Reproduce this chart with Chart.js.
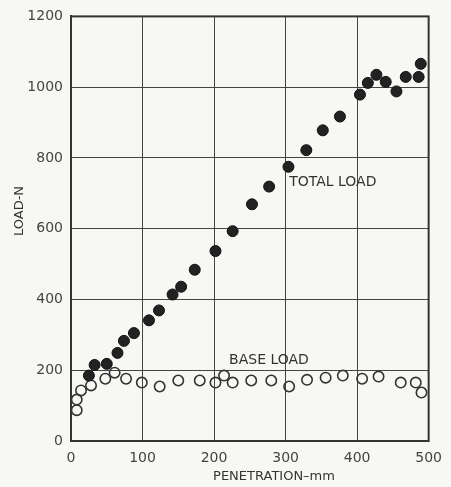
<!DOCTYPE html>
<html>
  <head>
    <title>Load vs penetration</title>
    <script src="https://cdn.jsdelivr.net/npm/chart.js"></script>
    <style>
      html, body { margin: 0; padding: 0; background: #f7f7f4; }
      #wrap { width: 451px; height: 487px; }
    </style>
  </head>
  <body>
    <div id="wrap"><canvas id="grafico"></canvas></div>
    <script>
      // total load (filled dots), penetration mm -> load N
      var totalX = [25, 33, 50, 65, 74, 88, 109, 123, 142, 154, 173, 202, 226, 253, 277, 304, 329, 352, 376, 404, 415, 427, 440, 455, 468, 486, 489];
      var totalY = [185, 215, 218, 249, 283, 305, 341, 369, 414, 436, 484, 537, 593, 669, 719, 775, 822, 878, 917, 979, 1012, 1035, 1015, 988, 1029, 1029, 1066];

      // base load (open circles)
      var baseX = [8, 8, 14, 28, 48, 61, 77, 99, 124, 150, 180, 202, 214, 226, 252, 280, 305, 330, 356, 380, 407, 430, 461, 482, 490];
      var baseY = [87, 117, 143, 157, 176, 193, 176, 165, 154, 171, 171, 165, 185, 165, 171, 171, 154, 173, 179, 185, 176, 182, 165, 165, 137];

      var xTicks = [0, 100, 200, 300, 400, 500];
      var yTicks = [0, 200, 400, 600, 800, 1000, 1200];

      function pares(xs, ys) {
        return xs.map((x, i) => ({ x: x, y: ys[i] }));
      }

      var textos = {
        id: "textos",
        afterDraw(chart) {
          var ctx = chart.ctx;
          var sx = chart.scales.x;
          var sy = chart.scales.y;
          var a = chart.chartArea;
          ctx.save();
          // frame round the plot
          ctx.strokeStyle = "#333";
          ctx.lineWidth = 2;
          ctx.strokeRect(a.left, a.top, a.right - a.left, a.bottom - a.top);
          ctx.fillStyle = "#333";
          ctx.font = "14px 'DejaVu Sans'";
          ctx.textBaseline = "middle";
          ctx.textAlign = "left";
          ctx.fillText("TOTAL LOAD", sx.getPixelForValue(305), sy.getPixelForValue(730));
          ctx.fillText("BASE LOAD", sx.getPixelForValue(221), sy.getPixelForValue(227));
          // axis titles
          ctx.font = "13px 'DejaVu Sans'";
          ctx.textAlign = "center";
          ctx.fillText("PENETRATION\u2013mm", 274, 477);
          ctx.translate(20, 211);
          ctx.rotate(-Math.PI / 2);
          ctx.fillText("LOAD-N", 0, 0);
          ctx.restore();
        },
      };

      var grafico = new Chart(document.getElementById("grafico").getContext("2d"), {
        type: "scatter",
        data: {
          datasets: [
            {
              label: "Total load",
              data: pares(totalX, totalY),
              pointRadius: 5.5,
              pointBackgroundColor: "#222",
              pointBorderColor: "#111",
              pointBorderWidth: 1,
            },
            {
              label: "Base load",
              data: pares(baseX, baseY),
              pointRadius: 5.2,
              pointBackgroundColor: "rgba(255,255,255,0)",
              pointBorderColor: "#333",
              pointBorderWidth: 1.6,
            },
          ],
        },
        plugins: [textos],
        options: {
          responsive: true,
          maintainAspectRatio: false,
          animation: false,
          layout: { padding: { left: 0, right: 21, top: 12, bottom: 0 } },
          plugins: { legend: { display: false }, tooltip: { enabled: false } },
          scales: {
            x: {
              type: "linear",
              min: 0,
              max: 500,
              afterFit(axis) { axis.height = 46; },
              afterBuildTicks(axis) { axis.ticks = xTicks.map((v) => ({ value: v })); },
              grid: { color: "#444", lineWidth: 1, drawTicks: false },
              border: { color: "#333", width: 2 },
              ticks: {
                color: "#444",
                padding: 9,
                font: { family: "DejaVu Sans", size: 14 },
                callback: (v) => String(v),
              },
            },
            y: {
              type: "linear",
              min: 0,
              max: 1200,
              afterFit(axis) { axis.width = 71; },
              afterBuildTicks(axis) { axis.ticks = yTicks.map((v) => ({ value: v })); },
              grid: { color: "#444", lineWidth: 1, drawTicks: false },
              border: { color: "#333", width: 2 },
              ticks: {
                color: "#444",
                padding: 8,
                font: { family: "DejaVu Sans", size: 14 },
                callback: (v) => String(v),
              },
            },
          },
        },
      });
    </script>
  </body>
</html>
